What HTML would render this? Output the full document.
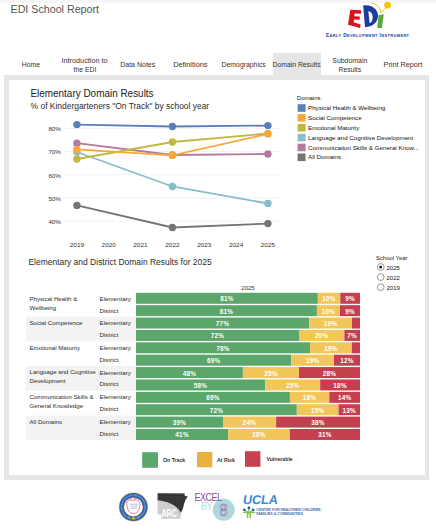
<!DOCTYPE html>
<html><head><meta charset="utf-8">
<style>
html,body{margin:0;padding:0;width:436px;height:529px;overflow:hidden;background:#fff;}
body{position:relative;font-family:"Liberation Sans",sans-serif;color:#333;}
.a{position:absolute;white-space:nowrap;}
.topband{position:absolute;left:0;top:0;width:436px;height:3px;background:#f6f6f6;}
.title{left:10.5px;top:1px;font-size:10.7px;color:#555;line-height:16px;}
.nav{font-size:7px;color:#333;text-align:center;line-height:9.4px;letter-spacing:0.2px;}
.tab{position:absolute;left:273px;top:53px;width:48px;height:22px;background:#e6e6e6;}
.frame{position:absolute;left:4px;top:75px;width:416px;height:395px;border:5px solid #e6e6e6;border-right-width:4px;}
.grp{position:absolute;left:26px;width:110px;background:#f3f3f3;}
.lbl{font-size:6.1px;color:#333;line-height:8.7px;}
.bar{position:absolute;height:11px;}
.g{background:#5ba66a;}.y{background:#f2c65a;}.r{background:#c63f4f;}
.pct{position:absolute;top:0;height:11px;line-height:11px;font-size:6.5px;font-weight:bold;color:#fff;text-align:center;}
</style></head>
<body>
<div class="topband"></div>
<div class="a title">EDI School Report</div>

<!-- nav -->
<div class="tab"></div>
<svg class="a" style="left:0;top:0" width="436" height="529" viewBox="0 0 436 529" font-family="Liberation Sans, sans-serif">
<text x="21.8" y="66.8" font-size="7" fill="#333" textLength="18.4" lengthAdjust="spacingAndGlyphs">Home</text>
<text x="61.5" y="62.5" font-size="7" fill="#333" textLength="46.1" lengthAdjust="spacingAndGlyphs">Introduction to</text>
<text x="73.6" y="71.5" font-size="7" fill="#333" textLength="22.7" lengthAdjust="spacingAndGlyphs">the EDI</text>
<text x="120.2" y="66.8" font-size="7" fill="#333" textLength="35.1" lengthAdjust="spacingAndGlyphs">Data Notes</text>
<text x="173.2" y="66.8" font-size="7" fill="#333" textLength="34.3" lengthAdjust="spacingAndGlyphs">Definitions</text>
<text x="221.6" y="66.8" font-size="7" fill="#333" textLength="44.2" lengthAdjust="spacingAndGlyphs">Demographics</text>
<text x="272.6" y="66.8" font-size="7" fill="#333" textLength="48.0" lengthAdjust="spacingAndGlyphs">Domain Results</text>
<text x="332.3" y="62.6" font-size="7" fill="#333" textLength="35.0" lengthAdjust="spacingAndGlyphs">Subdomain</text>
<text x="338.6" y="71.7" font-size="7" fill="#333" textLength="22.4" lengthAdjust="spacingAndGlyphs">Results</text>
<text x="383.6" y="66.8" font-size="7" fill="#333" textLength="38.7" lengthAdjust="spacingAndGlyphs">Print Report</text>
</svg>
<div class="frame"></div>
<svg class="a" style="left:0;top:0" width="436" height="529" viewBox="0 0 436 529" font-family="Liberation Sans, sans-serif">
<line x1="64" y1="128.35" x2="281" y2="128.35" stroke="#efefef" stroke-width="0.8"/>
<text x="60.8" y="131.25" text-anchor="end" font-size="6.2" fill="#333">80%</text>
<line x1="64" y1="151.56" x2="281" y2="151.56" stroke="#efefef" stroke-width="0.8"/>
<text x="60.8" y="154.46" text-anchor="end" font-size="6.2" fill="#333">70%</text>
<line x1="64" y1="174.77" x2="281" y2="174.77" stroke="#efefef" stroke-width="0.8"/>
<text x="60.8" y="177.67" text-anchor="end" font-size="6.2" fill="#333">60%</text>
<line x1="64" y1="197.99" x2="281" y2="197.99" stroke="#efefef" stroke-width="0.8"/>
<text x="60.8" y="200.89" text-anchor="end" font-size="6.2" fill="#333">50%</text>
<line x1="64" y1="221.20" x2="281" y2="221.20" stroke="#efefef" stroke-width="0.8"/>
<text x="60.8" y="224.10" text-anchor="end" font-size="6.2" fill="#333">40%</text>
<text x="69.8" y="246.9" font-size="5.8" fill="#333" textLength="14.2" lengthAdjust="spacingAndGlyphs">2019</text>
<text x="101.6" y="246.9" font-size="5.8" fill="#333" textLength="14.2" lengthAdjust="spacingAndGlyphs">2020</text>
<text x="133.3" y="246.9" font-size="5.8" fill="#333" textLength="14.2" lengthAdjust="spacingAndGlyphs">2021</text>
<text x="165.3" y="246.9" font-size="5.8" fill="#333" textLength="14.2" lengthAdjust="spacingAndGlyphs">2022</text>
<text x="197.2" y="246.9" font-size="5.8" fill="#333" textLength="14.2" lengthAdjust="spacingAndGlyphs">2023</text>
<text x="229.0" y="246.9" font-size="5.8" fill="#333" textLength="14.2" lengthAdjust="spacingAndGlyphs">2024</text>
<text x="260.8" y="246.9" font-size="5.8" fill="#333" textLength="14.2" lengthAdjust="spacingAndGlyphs">2025</text>
<polyline points="76.9,205.4 172.4,227.5 267.9,223.6" fill="none" stroke="#747474" stroke-width="1.8"/>
<circle cx="76.9" cy="205.4" r="3.7" fill="#747474"/>
<circle cx="172.4" cy="227.5" r="3.7" fill="#747474"/>
<circle cx="267.9" cy="223.6" r="3.7" fill="#747474"/>
<polyline points="76.9,143.2 172.4,155.0 267.9,154.0" fill="none" stroke="#b7789e" stroke-width="1.8"/>
<circle cx="76.9" cy="143.2" r="3.7" fill="#b7789e"/>
<circle cx="172.4" cy="155.0" r="3.7" fill="#b7789e"/>
<circle cx="267.9" cy="154.0" r="3.7" fill="#b7789e"/>
<polyline points="76.9,152.0 172.4,186.5 267.9,203.5" fill="none" stroke="#88bdca" stroke-width="1.8"/>
<circle cx="76.9" cy="152.0" r="3.7" fill="#88bdca"/>
<circle cx="172.4" cy="186.5" r="3.7" fill="#88bdca"/>
<circle cx="267.9" cy="203.5" r="3.7" fill="#88bdca"/>
<polyline points="76.9,159.0 172.4,142.0 267.9,133.5" fill="none" stroke="#c1b840" stroke-width="1.8"/>
<circle cx="76.9" cy="159.0" r="3.7" fill="#c1b840"/>
<circle cx="172.4" cy="142.0" r="3.7" fill="#c1b840"/>
<circle cx="267.9" cy="133.5" r="3.7" fill="#c1b840"/>
<polyline points="76.9,149.4 172.4,155.4 267.9,133.9" fill="none" stroke="#fba63c" stroke-width="1.8"/>
<circle cx="76.9" cy="149.4" r="3.7" fill="#fba63c"/>
<circle cx="172.4" cy="155.4" r="3.7" fill="#fba63c"/>
<circle cx="267.9" cy="133.9" r="3.7" fill="#fba63c"/>
<polyline points="76.9,124.6 172.4,126.5 267.9,125.6" fill="none" stroke="#5b80b7" stroke-width="1.8"/>
<circle cx="76.9" cy="124.6" r="3.7" fill="#5b80b7"/>
<circle cx="172.4" cy="126.5" r="3.7" fill="#5b80b7"/>
<circle cx="267.9" cy="125.6" r="3.7" fill="#5b80b7"/>
<text x="296.8" y="100" font-size="6" fill="#111">Domains</text>
<rect x="297.6" y="104.20" width="8" height="7.6" fill="#5b80b7"/>
<text x="308" y="110.10" font-size="6.2" fill="#111">Physical Health &amp; Wellbeing</text>
<rect x="297.6" y="114.06" width="8" height="7.6" fill="#fba63c"/>
<text x="308" y="119.96" font-size="6.2" fill="#111">Social Competence</text>
<rect x="297.6" y="123.92" width="8" height="7.6" fill="#c1b840"/>
<text x="308" y="129.82" font-size="6.2" fill="#111">Emotional Maturity</text>
<rect x="297.6" y="133.78" width="8" height="7.6" fill="#88bdca"/>
<text x="308" y="139.68" font-size="6.2" fill="#111">Language and Cognitive Development</text>
<rect x="297.6" y="143.64" width="8" height="7.6" fill="#b7789e"/>
<text x="308" y="149.54" font-size="6.2" fill="#111">Communication Skills &amp; General Know...</text>
<rect x="297.6" y="153.50" width="8" height="7.6" fill="#747474"/>
<text x="308" y="159.40" font-size="6.2" fill="#111">All Domains</text>
<rect x="26" y="316.56" width="110" height="24.76" fill="#f3f3f3"/>
<rect x="26" y="366.08" width="110" height="24.76" fill="#f3f3f3"/>
<rect x="26" y="415.60" width="110" height="24.76" fill="#f3f3f3"/>
<rect x="136.0" y="292.80" width="181.80" height="11.0" fill="#5ba66a"/>
<rect x="317.80" y="292.80" width="22.50" height="11.0" fill="#f2c65a"/>
<rect x="340.30" y="292.80" width="19.70" height="11.0" fill="#c63f4f"/>
<text x="226.90" y="301.30" text-anchor="middle" font-size="6.4" font-weight="bold" fill="#fff" letter-spacing="0.25">81%</text>
<text x="329.05" y="301.30" text-anchor="middle" font-size="6.4" font-weight="bold" fill="#fff" letter-spacing="0.25">10%</text>
<text x="350.15" y="301.30" text-anchor="middle" font-size="6.4" font-weight="bold" fill="#fff" letter-spacing="0.25">9%</text>
<rect x="136.0" y="305.18" width="180.90" height="11.0" fill="#5ba66a"/>
<rect x="316.90" y="305.18" width="23.10" height="11.0" fill="#f2c65a"/>
<rect x="340.00" y="305.18" width="20.00" height="11.0" fill="#c63f4f"/>
<text x="226.45" y="313.68" text-anchor="middle" font-size="6.4" font-weight="bold" fill="#fff" letter-spacing="0.25">81%</text>
<text x="328.45" y="313.68" text-anchor="middle" font-size="6.4" font-weight="bold" fill="#fff" letter-spacing="0.25">10%</text>
<text x="350.00" y="313.68" text-anchor="middle" font-size="6.4" font-weight="bold" fill="#fff" letter-spacing="0.25">9%</text>
<rect x="136.0" y="317.56" width="173.20" height="11.0" fill="#5ba66a"/>
<rect x="309.20" y="317.56" width="42.80" height="11.0" fill="#f2c65a"/>
<rect x="352.00" y="317.56" width="8.00" height="11.0" fill="#c63f4f"/>
<text x="222.60" y="326.06" text-anchor="middle" font-size="6.4" font-weight="bold" fill="#fff" letter-spacing="0.25">77%</text>
<text x="330.60" y="326.06" text-anchor="middle" font-size="6.4" font-weight="bold" fill="#fff" letter-spacing="0.25">19%</text>
<rect x="136.0" y="329.94" width="163.00" height="11.0" fill="#5ba66a"/>
<rect x="299.00" y="329.94" width="45.40" height="11.0" fill="#f2c65a"/>
<rect x="344.40" y="329.94" width="15.60" height="11.0" fill="#c63f4f"/>
<text x="217.50" y="338.44" text-anchor="middle" font-size="6.4" font-weight="bold" fill="#fff" letter-spacing="0.25">72%</text>
<text x="321.70" y="338.44" text-anchor="middle" font-size="6.4" font-weight="bold" fill="#fff" letter-spacing="0.25">20%</text>
<text x="352.20" y="338.44" text-anchor="middle" font-size="6.4" font-weight="bold" fill="#fff" letter-spacing="0.25">7%</text>
<rect x="136.0" y="342.32" width="174.00" height="11.0" fill="#5ba66a"/>
<rect x="310.00" y="342.32" width="41.80" height="11.0" fill="#f2c65a"/>
<rect x="351.80" y="342.32" width="8.20" height="11.0" fill="#c63f4f"/>
<text x="223.00" y="350.82" text-anchor="middle" font-size="6.4" font-weight="bold" fill="#fff" letter-spacing="0.25">78%</text>
<text x="330.90" y="350.82" text-anchor="middle" font-size="6.4" font-weight="bold" fill="#fff" letter-spacing="0.25">19%</text>
<rect x="136.0" y="354.70" width="155.30" height="11.0" fill="#5ba66a"/>
<rect x="291.30" y="354.70" width="42.70" height="11.0" fill="#f2c65a"/>
<rect x="334.00" y="354.70" width="26.00" height="11.0" fill="#c63f4f"/>
<text x="213.65" y="363.20" text-anchor="middle" font-size="6.4" font-weight="bold" fill="#fff" letter-spacing="0.25">69%</text>
<text x="312.65" y="363.20" text-anchor="middle" font-size="6.4" font-weight="bold" fill="#fff" letter-spacing="0.25">19%</text>
<text x="347.00" y="363.20" text-anchor="middle" font-size="6.4" font-weight="bold" fill="#fff" letter-spacing="0.25">12%</text>
<rect x="136.0" y="367.08" width="106.90" height="11.0" fill="#5ba66a"/>
<rect x="242.90" y="367.08" width="56.10" height="11.0" fill="#f2c65a"/>
<rect x="299.00" y="367.08" width="61.00" height="11.0" fill="#c63f4f"/>
<text x="189.45" y="375.58" text-anchor="middle" font-size="6.4" font-weight="bold" fill="#fff" letter-spacing="0.25">48%</text>
<text x="270.95" y="375.58" text-anchor="middle" font-size="6.4" font-weight="bold" fill="#fff" letter-spacing="0.25">25%</text>
<text x="329.50" y="375.58" text-anchor="middle" font-size="6.4" font-weight="bold" fill="#fff" letter-spacing="0.25">28%</text>
<rect x="136.0" y="379.46" width="129.10" height="11.0" fill="#5ba66a"/>
<rect x="265.10" y="379.46" width="55.10" height="11.0" fill="#f2c65a"/>
<rect x="320.20" y="379.46" width="39.80" height="11.0" fill="#c63f4f"/>
<text x="200.55" y="387.96" text-anchor="middle" font-size="6.4" font-weight="bold" fill="#fff" letter-spacing="0.25">58%</text>
<text x="292.65" y="387.96" text-anchor="middle" font-size="6.4" font-weight="bold" fill="#fff" letter-spacing="0.25">25%</text>
<text x="340.10" y="387.96" text-anchor="middle" font-size="6.4" font-weight="bold" fill="#fff" letter-spacing="0.25">18%</text>
<rect x="136.0" y="391.84" width="153.90" height="11.0" fill="#5ba66a"/>
<rect x="289.90" y="391.84" width="39.40" height="11.0" fill="#f2c65a"/>
<rect x="329.30" y="391.84" width="30.70" height="11.0" fill="#c63f4f"/>
<text x="212.95" y="400.34" text-anchor="middle" font-size="6.4" font-weight="bold" fill="#fff" letter-spacing="0.25">69%</text>
<text x="309.60" y="400.34" text-anchor="middle" font-size="6.4" font-weight="bold" fill="#fff" letter-spacing="0.25">18%</text>
<text x="344.65" y="400.34" text-anchor="middle" font-size="6.4" font-weight="bold" fill="#fff" letter-spacing="0.25">14%</text>
<rect x="136.0" y="404.22" width="160.80" height="11.0" fill="#5ba66a"/>
<rect x="296.80" y="404.22" width="41.80" height="11.0" fill="#f2c65a"/>
<rect x="338.60" y="404.22" width="21.40" height="11.0" fill="#c63f4f"/>
<text x="216.40" y="412.72" text-anchor="middle" font-size="6.4" font-weight="bold" fill="#fff" letter-spacing="0.25">72%</text>
<text x="317.70" y="412.72" text-anchor="middle" font-size="6.4" font-weight="bold" fill="#fff" letter-spacing="0.25">15%</text>
<text x="349.30" y="412.72" text-anchor="middle" font-size="6.4" font-weight="bold" fill="#fff" letter-spacing="0.25">13%</text>
<rect x="136.0" y="416.60" width="87.00" height="11.0" fill="#5ba66a"/>
<rect x="223.00" y="416.60" width="53.10" height="11.0" fill="#f2c65a"/>
<rect x="276.10" y="416.60" width="83.90" height="11.0" fill="#c63f4f"/>
<text x="179.50" y="425.10" text-anchor="middle" font-size="6.4" font-weight="bold" fill="#fff" letter-spacing="0.25">39%</text>
<text x="249.55" y="425.10" text-anchor="middle" font-size="6.4" font-weight="bold" fill="#fff" letter-spacing="0.25">24%</text>
<text x="318.05" y="425.10" text-anchor="middle" font-size="6.4" font-weight="bold" fill="#fff" letter-spacing="0.25">38%</text>
<rect x="136.0" y="428.98" width="92.20" height="11.0" fill="#5ba66a"/>
<rect x="228.20" y="428.98" width="61.70" height="11.0" fill="#f2c65a"/>
<rect x="289.90" y="428.98" width="70.10" height="11.0" fill="#c63f4f"/>
<text x="182.10" y="437.48" text-anchor="middle" font-size="6.4" font-weight="bold" fill="#fff" letter-spacing="0.25">41%</text>
<text x="259.05" y="437.48" text-anchor="middle" font-size="6.4" font-weight="bold" fill="#fff" letter-spacing="0.25">28%</text>
<text x="324.95" y="437.48" text-anchor="middle" font-size="6.4" font-weight="bold" fill="#fff" letter-spacing="0.25">31%</text>
<text x="29.5" y="300.60" font-size="6.1" fill="#2a2a2a">Physical Health &amp;</text>
<text x="29.5" y="309.50" font-size="6.1" fill="#2a2a2a">Wellbeing</text>
<text x="99.5" y="300.90" font-size="6.2" fill="#2a2a2a">Elementary</text>
<text x="99.5" y="312.70" font-size="6.2" fill="#2a2a2a">District</text>
<text x="29.5" y="325.18" font-size="6.1" fill="#2a2a2a">Social Competence</text>
<text x="99.5" y="325.48" font-size="6.2" fill="#2a2a2a">Elementary</text>
<text x="99.5" y="337.28" font-size="6.2" fill="#2a2a2a">District</text>
<text x="29.5" y="349.76" font-size="6.1" fill="#2a2a2a">Emotional Maturity</text>
<text x="99.5" y="350.06" font-size="6.2" fill="#2a2a2a">Elementary</text>
<text x="99.5" y="361.86" font-size="6.2" fill="#2a2a2a">District</text>
<text x="29.5" y="374.34" font-size="6.1" fill="#2a2a2a">Language and Cognitive</text>
<text x="29.5" y="383.24" font-size="6.1" fill="#2a2a2a">Development</text>
<text x="99.5" y="374.64" font-size="6.2" fill="#2a2a2a">Elementary</text>
<text x="99.5" y="386.44" font-size="6.2" fill="#2a2a2a">District</text>
<text x="29.5" y="398.92" font-size="6.1" fill="#2a2a2a">Communication Skills &amp;</text>
<text x="29.5" y="407.82" font-size="6.1" fill="#2a2a2a">General Knowledge</text>
<text x="99.5" y="399.22" font-size="6.2" fill="#2a2a2a">Elementary</text>
<text x="99.5" y="411.02" font-size="6.2" fill="#2a2a2a">District</text>
<text x="29.5" y="423.50" font-size="6.1" fill="#2a2a2a">All Domains</text>
<text x="99.5" y="423.80" font-size="6.2" fill="#2a2a2a">Elementary</text>
<text x="99.5" y="435.60" font-size="6.2" fill="#2a2a2a">District</text>
<text x="248" y="290.2" text-anchor="middle" font-size="6" fill="#333">2025</text>
</svg>
<svg class="a" style="left:0;top:0" width="436" height="529" viewBox="0 0 436 529" font-family="Liberation Sans, sans-serif">
<text x="28.4" y="264.9" font-size="8.5" fill="#2a2a2a" textLength="183.3" lengthAdjust="spacingAndGlyphs">Elementary and District Domain Results for 2025</text>
<text x="30.4" y="97" font-size="10.1" fill="#222" textLength="123.2" lengthAdjust="spacingAndGlyphs">Elementary Domain Results</text>
<text x="30.6" y="108.6" font-size="8.3" fill="#2a2a2a" textLength="178.6" lengthAdjust="spacingAndGlyphs">% of Kindergarteners "On Track" by school year</text>
</svg>


<!-- school year radio -->
<div class="a" style="left:376px;top:253.5px;font-size:5.9px;color:#1a1a1a;line-height:8px;">School Year</div>
<svg class="a" style="left:0;top:0" width="436" height="529" viewBox="0 0 436 529" font-family="Liberation Sans, sans-serif">
<circle cx="380.7" cy="267" r="3.4" fill="#fff" stroke="#555" stroke-width="0.6"/>
<circle cx="380.7" cy="267" r="1.5" fill="#222"/>
<circle cx="380.7" cy="277.1" r="3.4" fill="#fff" stroke="#555" stroke-width="0.6"/>
<circle cx="380.7" cy="287.2" r="3.4" fill="#fff" stroke="#555" stroke-width="0.6"/>
<text x="386.5" y="270" font-size="6" fill="#111">2025</text>
<text x="386.5" y="280.1" font-size="6" fill="#111">2022</text>
<text x="386.5" y="290.2" font-size="6" fill="#111">2019</text>
<!-- bottom legend -->
<rect x="142.2" y="452.2" width="15.8" height="15.6" fill="#5aa869"/>
<rect x="197" y="452" width="15.3" height="15.3" fill="#e9b140"/>
<rect x="245" y="451.2" width="15.4" height="15.6" fill="#c6424f"/>
<text x="163" y="462" font-size="5.2" font-weight="bold" fill="#333">On Track</text>
<text x="217" y="461.6" font-size="5.2" font-weight="bold" fill="#333">At Risk</text>
<text x="266.4" y="461.2" font-size="5.2" font-weight="bold" fill="#333">Vulnerable</text>
</svg>

<!-- EDI logo -->
<svg class="a" style="left:0;top:0" width="436" height="529" viewBox="0 0 436 529">
<path d="M371.5,2.9 Q379.5,4.5 381.2,12.8" fill="none" stroke="#f3c21b" stroke-width="0.9"/>
<path d="M385.6,7.6 L381.3,12.8" fill="none" stroke="#f3c21b" stroke-width="0.9"/>
<circle cx="387.6" cy="5.2" r="3.4" fill="#f6c500"/>
<path d="M350.3,9.7 L361.2,10.3 L361,13.8 L354.6,13.4 L354.3,16.2 L359.8,16.5 L359.6,19.8 L354,19.5 L353.7,22.3 L360.6,24.4 L360,28.1 L348,24.8 Z" fill="#d8141d"/>
<path d="M363.2,5.4 C371.8,4.3 377.9,9.2 378,15.6 C378.1,22.6 372.5,26.9 365,27.3 Z M368.3,11 L369.6,23.2 C371.9,22.2 372.9,19.4 372.7,16.4 C372.5,13.6 370.8,11.5 368.3,11 Z" fill="#1b3d9b" fill-rule="evenodd"/>
<path d="M378.6,15 L383.8,14.3 L381.9,28.1 L377.2,28.1 Z" fill="#5aab3a"/>
</svg>
<div class="a" style="left:326px;top:33px;font-size:4.8px;font-weight:bold;color:#1b3d9b;letter-spacing:0.4px;line-height:6px;font-variant:small-caps;">E<span style="font-size:3.9px">ARLY</span> D<span style="font-size:3.9px">EVELOPMENT</span> I<span style="font-size:3.9px">NSTRUMENT</span></div>

<!-- bottom logos -->
<svg class="a" style="left:0;top:0" width="436" height="529" viewBox="0 0 436 529" font-family="Liberation Sans, sans-serif">
<!-- seal -->
<circle cx="133.4" cy="507" r="14.7" fill="#ead28e"/>
<circle cx="133.4" cy="507" r="14.1" fill="#2f62ad"/>
<circle cx="133.4" cy="507" r="11.8" fill="none" stroke="#cfdcf0" stroke-width="1.6" stroke-dasharray="0.7 0.6" opacity="0.55"/>
<circle cx="133.4" cy="507" r="9.5" fill="#e8d494"/>
<circle cx="133.4" cy="507" r="9.1" fill="#fff"/>
<path d="M126.8,504.5 C126.3,500 129.5,499.2 132.6,500.6 C135.6,499 140.2,499.8 140,504.6 C139.8,510.5 136.5,514 133.4,513.3 C130,514 127.2,510 126.8,504.5 Z" fill="none" stroke="#e5487a" stroke-width="0.7"/>
<path d="M131,500.2 C130.5,498 131.8,497 133.2,497.8 M133,500.5 C134,498.5 136,498 137,499" fill="none" stroke="#e5487a" stroke-width="0.6"/>
<rect x="129.6" y="503.8" width="8.8" height="0.8" fill="#a7b0d4"/>
<rect x="130.4" y="505.8" width="7.2" height="0.8" fill="#a7b0d4"/>
<rect x="130.8" y="507.8" width="6.4" height="0.8" fill="#a7b0d4"/>
<circle cx="133.4" cy="518.3" r="1.3" fill="#f6c800"/>
<circle cx="128.8" cy="517.2" r="0.6" fill="#f6c800"/>
<circle cx="138" cy="517.2" r="0.6" fill="#f6c800"/>
<!-- ARC -->
<defs><pattern id="spk" width="2.2" height="1.9" patternUnits="userSpaceOnUse"><rect width="2.2" height="1.9" fill="#262626"/><rect x="0.3" y="0.4" width="0.7" height="0.5" fill="#bdbdbd"/><rect x="1.4" y="1.3" width="0.5" height="0.4" fill="#8a8a8a"/></pattern></defs>
<path d="M157.6,493.2 L184.5,493.4 L184.8,496 L187.8,496.6 L185.6,499.5 L184,504 L182.8,509 L181.2,513 L180.5,518.8 L161.5,518.8 L161.5,514.5 L157.6,514.5 Z" fill="#cdcdcd"/>
<path d="M157.6,493.2 L184.5,493.4 L184.8,496 L187.8,496.6 L185.6,499.5 L184,504 L182.8,509 L180.8,512.8 C177,505.5 169,501.5 157.6,500.3 Z" fill="url(#spk)"/>
<text transform="translate(169.2,517.2) scale(0.72,1)" text-anchor="middle" font-size="10" font-weight="bold" fill="#fff">ARC</text>
<!-- Excel by 8 -->
<circle cx="223.7" cy="509.8" r="11" fill="#acd9db"/>
<text transform="translate(194.6,500.9) scale(1,1.12)" font-size="9" fill="#7d52a0" letter-spacing="-0.55">EXCEL</text>
<text transform="translate(201,510) scale(1,1.12)" font-size="9" fill="#b3dfe0" letter-spacing="-0.5">BY</text>
<text transform="translate(223.7,515.6) scale(0.9,1)" text-anchor="middle" font-size="16.5" fill="#f4f0f8" stroke="#7d52a0" stroke-width="0.55">8</text>
<!-- UCLA -->
<text transform="translate(242.6,503.9) skewX(-9)" font-size="12.6" font-weight="bold" fill="#3a8bd0" letter-spacing="-0.1">UCLA</text>
<g fill="none" stroke="#7cc545" stroke-linecap="round">
<path d="M244.6,510.2 L248.9,513 L253,510.2" stroke-width="1.3"/>
<path d="M248.9,509 L248.9,513" stroke-width="1.2"/>
<path d="M243.8,512.4 L254.4,512.4" stroke-width="1.4"/>
<path d="M247.6,512.5 L247.6,517.4 M250.2,512.5 L250.2,517.4" stroke-width="1.5"/>
</g>
<g fill="#1f5aa6">
<circle cx="244.3" cy="509.8" r="1.35"/><circle cx="248.9" cy="507.9" r="1.35"/><circle cx="253.2" cy="509.8" r="1.35"/>
</g>
<text x="256.2" y="511.1" font-size="3.6" font-weight="bold" fill="#3a6fb5">CENTER FOR HEALTHIER CHILDREN,</text>
<text x="256.2" y="515.3" font-size="3.6" font-weight="bold" fill="#3a6fb5">FAMILIES &amp; COMMUNITIES</text>
</svg>
</body></html>
